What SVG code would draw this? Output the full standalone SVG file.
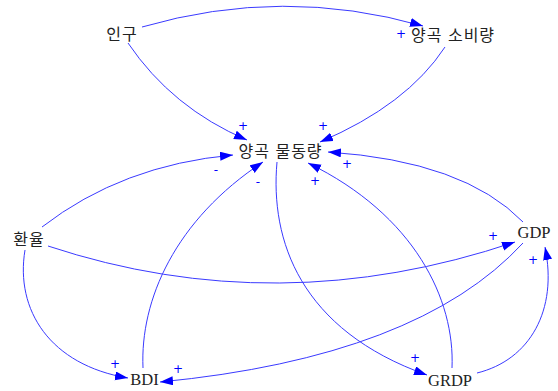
<svg xmlns="http://www.w3.org/2000/svg" width="558" height="391" viewBox="0 0 558 391">
<defs>
<marker id="ah" markerUnits="userSpaceOnUse" markerWidth="14" markerHeight="10" refX="13" refY="4.5" orient="auto">
<path d="M0,0 L13,4.5 L0,9 z" fill="#0000ff"/>
</marker>
<style>
.e{fill:none;stroke:#3a3aff;stroke-width:1;marker-end:url(#ah)}
.k{font-family:"Noto Sans CJK KR","Noto Sans",sans-serif;font-size:16px;fill:#222;text-anchor:middle;letter-spacing:1px;word-spacing:1px}
.l{font-family:"Liberation Serif","Times New Roman",serif;font-size:16.5px;fill:#222;text-anchor:middle}
.p{font-family:"DejaVu Sans",sans-serif;font-size:12px;fill:#0000ff;text-anchor:middle}
</style>
</defs>
<rect width="558" height="391" fill="#fff"/>
<g id="connectors">
<path class="e" d="M142,27 Q283,-14 423,26"/>
<path class="e" d="M128,43 Q172,108 247,140"/>
<path class="e" d="M445,47 Q407,105 320,142"/>
<path class="e" d="M42,227 Q122,165 233,155"/>
<path class="e" d="M143,368 C140,300 175,220 263,162"/>
<path class="e" d="M523,222 Q464,161 328,152"/>
<path class="e" d="M452,368 C455,300 415,215 308,163"/>
<path class="e" d="M277,162 C270,240 300,330 427,375"/>
<path class="e" d="M48,246 Q278,322 515,242"/>
<path class="e" d="M523,243 Q418,357 160,382"/>
<path class="e" d="M25,250 C15,310 50,365 128,378"/>
<path class="e" d="M477,373 C530,360 558,310 545,247"/>
</g>
<g id="polarities">
<text class="p" x="401" y="38">+</text>
<text class="p" x="243" y="130">+</text>
<text class="p" x="323" y="130">+</text>
<text class="p" x="216" y="174">-</text>
<text class="p" x="258" y="186">-</text>
<text class="p" x="347" y="168">+</text>
<text class="p" x="315" y="185">+</text>
<text class="p" x="415" y="362">+</text>
<text class="p" x="493" y="240">+</text>
<text class="p" x="533" y="264">+</text>
<text class="p" x="115" y="368">+</text>
<text class="p" x="178" y="373">+</text>
</g>
<g id="n-ingu"><text class="k" x="122" y="40">인구</text></g>
<g id="n-sobi"><text class="k" x="453" y="41">양곡 소비량</text></g>
<g id="n-muldong"><text class="k" x="280.5" y="157">양곡 물동량</text></g>
<g id="n-hwanyul"><text class="k" x="29" y="245">환율</text></g>
<g id="n-gdp"><text class="l" x="534" y="238">GDP</text></g>
<g id="n-bdi"><text class="l" x="144.5" y="385">BDI</text></g>
<g id="n-grdp"><text class="l" x="450" y="386">GRDP</text></g>
</svg>
